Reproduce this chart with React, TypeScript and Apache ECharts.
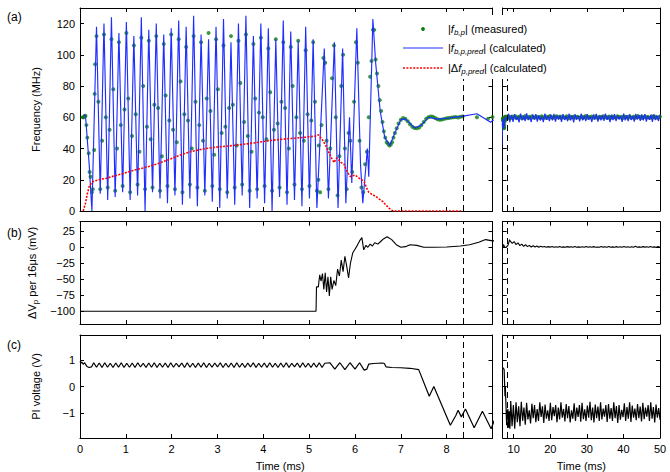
import React, { useEffect, useRef } from 'react';
import * as echarts from 'echarts';

// ---------------- data ----------------
const switchTime = 8.37; // ms, dashed marker

// (a) calculated |f_b,p,pred| : start, oscillation (alternating peak/trough), irregular part, tail
const blueStart = [[0.08, 62], [0.12, 61], [0.2, 30], [0.26, 0]];
const blueOscStart = 0.36;
const blueOscStep = 0.0815;
const blueOscVals = [
  118, 11, 120, 7, 124, 9, 114, 12, 121, 7, 112, 10, 124, 0, 116, 12, 120, 8, 113, 5,
  117, 10, 122, 4, 118, 8, 125, 3, 113, 10, 110, 6, 118, 2, 123, 8, 108, 4, 120, 10,
  125, 2, 112, 8, 120, 5, 117, 0, 110, 9, 122, 4, 115, 7, 109, 3, 118, 8, 110, 2,
];
const blueIrregular = [
  [5.33, 104], [5.42, 8], [5.55, 108], [5.63, 2], [5.73, 104], [5.8, 5], [5.88, 60], [5.93, 18],
  [6.04, 117], [6.12, 30], [6.17, 5], [6.27, 40], [6.3, 22], [6.39, 123], [6.45, 95], [6.55, 64],
  [6.65, 47], [6.76, 42], [6.87, 50], [7.0, 58.5], [7.1, 59], [7.3, 53.2], [7.45, 55], [7.6, 60],
  [7.8, 58.8], [8.0, 59.4], [8.33, 60.6], [8.66, 62.3], [8.96, 56.8],
];
const blueLateStart = 9.0;
const blueLateEnd = 50;
const blueLateVals = [
  58, 61.5, 57, 62, 58.5, 60.5, 56.8, 62.3, 58, 61, 57.5, 62.5, 58.2, 60.8, 57, 61.8, 58.6, 62, 57.3, 61.2,
  58, 60.6, 56.9, 62.4, 58.4, 61, 57.6, 61.7, 58.1, 62.2, 57.2, 60.9, 58.5, 61.5, 57, 62, 58.3, 60.7, 57.5, 62.3,
  58, 61.3, 56.8, 61.9, 58.6, 60.8, 57.4, 62.4, 58.1, 61.1, 57.6, 62, 58.3, 60.6, 57, 61.8, 58.5, 62.2, 57.3, 61,
  58, 61.6, 57.7, 62.3, 58.4, 60.9, 56.9, 61.7, 58.2, 62.1, 57.5, 61.2, 58.6, 60.7, 57.1, 62.4, 58, 61.4, 57.6, 61.9,
  58.3, 60.8, 57.2, 62.2, 58.5, 61.3, 57.8, 61.8, 58.1, 62, 57.3, 60.9, 58.4, 61.6, 57, 62.1, 58.2, 61, 57.6, 61.5,
];

// (a) measured |f_b,p| (green dots)
const greenStart = [
  [0.06, 60], [0.08, 60], [0.1, 60.5], [0.12, 61], [0.14, 55], [0.16, 47], [0.19, 37], [0.21, 25],
  [0.23, 22], [0.26, 12], [0.28, 14], [0.31, 39], [0.32, 75], [0.33, 94],
];
const greenOscStart = 0.36;
const greenOscStep = 0.04075;
const greenOscVals = [
  112, 70, 14, 45, 113, 60, 15, 52, 110, 78, 13, 40, 108, 55, 16, 65, 114, 72, 12, 48,
  106, 62, 17, 38, 111, 80, 14, 54, 109, 46, 15, 68, 112, 66, 13, 35, 107, 74, 16, 58,
  113, 52, 14, 44, 110, 83, 12, 62, 105, 58, 17, 40, 112, 70, 15, 55, 108, 45, 13, 72,
  114, 64, 16, 36, 110, 78, 14, 50, 106, 54, 12, 66, 112, 68, 15, 42, 109, 82, 17, 57,
  113, 48, 13, 38, 107, 72, 14, 63, 111, 60, 16, 46, 104, 76, 13, 52, 110, 56, 15, 70,
  108, 66, 12, 40, 105, 80, 17, 60, 109, 50, 14, 45, 103, 62, 16, 58, 108, 70, 13, 42,
];
const greenIrregular = [
  [5.2, 20], [5.24, 12], [5.27, 55], [5.31, 98], [5.35, 95], [5.38, 45], [5.42, 14], [5.46, 40],
  [5.5, 85], [5.54, 106], [5.58, 60], [5.62, 10], [5.66, 35], [5.7, 80], [5.74, 100], [5.78, 40],
  [5.82, 14], [5.86, 50], [5.9, 45], [5.94, 25], [5.98, 70], [6.02, 108], [6.06, 95], [6.1, 45],
  [6.14, 15], [6.18, 12], [6.22, 30], [6.26, 38], [6.3, 60],
];
const greenTail = [
  [6.33, 86], [6.36, 96], [6.39, 116], [6.42, 116], [6.45, 97], [6.48, 88], [6.51, 80], [6.54, 71],
  [6.57, 64], [6.6, 57], [6.63, 51], [6.66, 47], [6.69, 44], [6.72, 43], [6.75, 42], [6.78, 42.5],
  [6.81, 44], [6.84, 47], [6.87, 50], [6.91, 53], [6.95, 56], [7.0, 58.5], [7.05, 59.5], [7.1, 59],
  [7.15, 57.5], [7.2, 55.5], [7.25, 54], [7.3, 53.2], [7.35, 53], [7.4, 53.5], [7.45, 55], [7.5, 57],
  [7.55, 59], [7.6, 60], [7.65, 60.5], [7.7, 60.3], [7.75, 59.5], [7.8, 58.8], [7.85, 58.5], [7.9, 58.6],
  [7.95, 59], [8.0, 59.4], [8.05, 59.6], [8.1, 59.8], [8.15, 60], [8.2, 60.2], [8.25, 59.9], [8.3, 60.4],
  [8.35, 60.6], [8.66, 60], [8.9, 59],
];
const greenLateStart = 9.0;
const greenLateEnd = 50;
const greenLateVals = [
  60.2, 59.6, 60.5, 59.9, 60.8, 59.4, 60.1, 60.6, 59.7, 60.3, 59.5, 60.9, 60, 59.8, 60.4, 59.3, 60.7, 60.1, 59.6, 60.5,
  59.9, 60.2, 59.4, 60.8, 60, 59.7, 60.6, 59.5, 60.3, 60.9, 59.8, 60.1, 59.6, 60.4, 60.7, 59.9, 60.2, 59.5, 60.6, 60,
  59.7, 60.8, 60.3, 59.4, 60.5, 59.9, 60.1, 60.7, 59.6, 60.4, 60, 59.8, 60.6, 59.5, 60.2, 60.9, 59.7, 60.3, 59.9, 60.5,
  60.1, 59.6, 60.8, 60, 59.4, 60.4, 60.2, 59.8, 60.7, 59.9, 60.3, 59.5, 60.6, 60.1, 59.7, 60.5, 60, 59.6, 60.8, 60.2,
  59.9, 60.4, 59.5, 60.6, 60.1, 59.8, 60.3, 60.7, 59.6, 60, 60.5, 59.7, 60.2, 60.9, 59.9, 60.4, 59.5, 60.1, 60.6, 59.8,
  60.3, 60, 59.6, 60.7, 60.2, 59.9, 60.4, 59.7, 60.1, 60.5,
];

// (a) calculated |Δf_p,pred| (red dotted)
const redPts = [
  [0.07, 0], [0.12, 5], [0.16, 11], [0.2, 15.6], [0.24, 17.5], [0.28, 18.8], [0.4, 20], [0.58, 21],
  [0.75, 22.5], [0.94, 24], [1.1, 25.5], [1.3, 27], [1.5, 28.5], [1.67, 30], [1.85, 32], [2.03, 34],
  [2.2, 36], [2.39, 37.8], [2.57, 39], [2.75, 40], [3.0, 41], [3.2, 41.5], [3.5, 42.5], [3.77, 43.5],
  [4.0, 44.5], [4.28, 45.6], [4.5, 46.2], [4.71, 46.7], [4.95, 47.3], [5.14, 48], [5.2, 48.8], [5.28, 46],
  [5.36, 42], [5.42, 38], [5.47, 35], [5.54, 31], [5.6, 34], [5.65, 32.6], [5.7, 31], [5.76, 30],
  [5.8, 27], [5.83, 25], [5.9, 22], [5.95, 22.5], [6.0, 23], [6.05, 22], [6.09, 21], [6.15, 20],
  [6.2, 18.8], [6.25, 15], [6.3, 12], [6.38, 10.5], [6.45, 9.4], [6.52, 7.8], [6.6, 6.2], [6.67, 4],
  [6.74, 1.9], [6.8, 0.5], [6.85, 0], [8.33, 0],
];

// (b) ΔV_p per 16 µs (mV)
const bEarly = [
  [0, -100], [5.15, -100], [5.16, -62], [5.2, -62], [5.23, -43], [5.26, -53], [5.29, -41], [5.32, -66],
  [5.35, -40], [5.38, -70], [5.41, -46], [5.44, -76], [5.47, -46], [5.5, -66], [5.54, -52], [5.58, -60],
  [5.62, -34], [5.66, -45], [5.7, -20], [5.74, -38], [5.78, -14], [5.82, -30], [5.86, -48], [5.9, -25],
  [5.95, -9], [6.0, -3], [6.05, 3], [6.1, 10], [6.15, 15], [6.19, -4], [6.24, 3], [6.28, 0],
  [6.33, 5], [6.38, 2], [6.43, 7], [6.5, 5], [6.56, 9], [6.62, 13], [6.7, 16.5], [6.8, 12],
  [6.9, 4], [7.0, 0], [7.1, 1], [7.2, 4], [7.35, 3], [7.5, 0], [7.7, 0], [8.0, 0.5],
  [8.3, 2], [8.5, 4], [8.7, 8], [8.85, 12], [9.0, 10],
];
const bLateStart = 9.1;
const bLateEnd = 50;
const bLateVals = [
  10, 6, 9, 4, 7, 2.5, 5, 1.5, 4, 1, 3, 0.5, 2.5, 0.5, 2, 0, 1.5, 0.3, 1.2, 0,
  1, 0.2, 1.2, 0, 0.8, 0, 1.4, 0, 0.6, 0, 1, 0.2, 0.8, 0, 1.2, 0, 0.6, 0, 0.9, 0.1,
  1.3, 0, 0.7, 0, 1, 0, 0.5, 0, 1.2, 0.2, 0.8, 0, 1.4, 0, 0.6, 0, 1, 0, 0.8, 0.1,
  1.2, 0, 0.7, 0, 0.9, 0, 1.5, 0, 0.6, 0, 1, 0.2, 0.8, 0, 1.2, 0, 0.6, 0, 1, 0,
];

// (c) PI voltage (V)
const cStart = [[0, 0.95], [0.02, 0.88], [0.04, 0.93], [0.07, 0.84], [0.1, 0.9], [0.15, 0.76], [0.2, 0.72], [0.25, 0.74]];
const cOscStart = 0.3;
const cOscStep = 0.06;
const cOscVals = [
  0.9, 0.73, 0.89, 0.72, 0.9, 0.73, 0.88, 0.72, 0.89, 0.73, 0.9, 0.72, 0.88, 0.73, 0.89, 0.72, 0.9, 0.74, 0.88, 0.72,
  0.89, 0.73, 0.9, 0.72, 0.88, 0.73, 0.89, 0.72, 0.9, 0.73, 0.88, 0.74, 0.89, 0.72, 0.9, 0.73, 0.88, 0.72, 0.89, 0.73,
  0.9, 0.72, 0.88, 0.73, 0.89, 0.74, 0.9, 0.72, 0.88, 0.73, 0.89, 0.72, 0.9, 0.73, 0.88, 0.72, 0.89, 0.74, 0.9, 0.72,
  0.88, 0.73, 0.89, 0.72, 0.9, 0.73, 0.88, 0.72, 0.89, 0.73, 0.9, 0.72, 0.88, 0.74, 0.89, 0.72, 0.9, 0.73, 0.88, 0.72,
  0.89, 0.73, 0.9, 0.72, 0.88,
];
const cTail = [
  [5.45, 0.9], [5.56, 0.66], [5.67, 0.9], [5.78, 0.64], [5.89, 0.9], [6.0, 0.66], [6.1, 0.9], [6.2, 0.62],
  [6.26, 0.66], [6.3, 0.85], [6.4, 0.87], [6.5, 0.88], [6.6, 0.89], [6.64, 0.87], [6.68, 0.74], [6.8, 0.72],
  [7.0, 0.71], [7.2, 0.69], [7.39, 0.64], [7.62, -0.37], [7.72, 0.0], [8.08, -1.47], [8.2, -1.1], [8.25, -0.9],
  [8.32, -1.15], [8.41, -0.85], [8.6, -1.56], [8.78, -0.94], [8.97, -1.6],
];
const cLateStart = 9.2;
const cLateEnd = 50;
const cLateVals = [
  -0.55, -1.5, -0.7, -1.6, -0.6, -1.35, -0.75, -1.5, -0.58, -1.3, -0.8, -1.45, -0.62, -1.25, -0.9, -1.4, -0.65, -1.2, -0.7, -1.35,
  -0.85, -1.3, -0.6, -1.15, -0.75, -1.38, -0.68, -1.22, -0.9, -1.3, -0.62, -1.28, -0.78, -1.12, -0.7, -1.35, -0.8, -1.25, -0.6, -1.18,
  -0.85, -1.32, -0.66, -1.2, -0.74, -1.36, -0.9, -1.22, -0.64, -1.3, -0.8, -1.15, -0.7, -1.33, -0.62, -1.24, -0.86, -1.3, -0.72, -1.18,
  -0.58, -1.28, -0.8, -1.36, -0.68, -1.2, -0.76, -1.3, -0.6, -1.25, -0.84, -1.14, -0.7, -1.34, -0.66, -1.22, -0.82, -1.3, -0.6, -1.2,
  -0.74, -1.38, -0.7, -1.26, -0.88, -1.16, -0.64, -1.3, -0.78, -1.22, -0.6, -1.34, -0.72, -1.18, -0.84, -1.28, -0.66, -1.2, -0.76, -1.32,
  -0.62, -1.24, -0.8, -1.14, -0.7, -1.3, -0.6, -1.22, -0.78, -1.36, -0.68, -1.18, -0.82, -1.26,
];

// axis ticks
const xTicksLeft = [0, 1, 2, 3, 4, 5, 6, 7, 8, 9];
const xLabelsLeft = [0, 1, 2, 3, 4, 5, 6, 7, 8];
const xTicksRight = [10, 20, 30, 40, 50];
const yTicksA = [0, 20, 40, 60, 80, 100, 120];
const yTicksB = [-100, -75, -50, -25, 0, 25];
const yTicksC = [-1, 0, 1];

// ---------------- helpers ----------------
const stepped = (start: number, step: number, vals: number[]) =>
  vals.map((v, i) => [+(start + i * step).toFixed(4), v]);
const spanned = (start: number, end: number, vals: number[]) =>
  stepped(start, (end - start) / (vals.length - 1), vals);

const blueAll = [...blueStart, ...stepped(blueOscStart, blueOscStep, blueOscVals), ...blueIrregular, ...spanned(blueLateStart, blueLateEnd, blueLateVals)];
const greenAll = [...greenStart, ...stepped(greenOscStart, greenOscStep, greenOscVals), ...greenIrregular, ...greenTail, ...spanned(greenLateStart, greenLateEnd, greenLateVals)];
const bAll = [...bEarly, ...spanned(bLateStart, bLateEnd, bLateVals)];
const cAll = [...cStart, ...stepped(cOscStart, cOscStep, cOscVals), ...cTail, ...spanned(cLateStart, cLateEnd, cLateVals)];

const F = "'Liberation Sans', Arial, Helvetica, sans-serif";
const font = { fontFamily: F, fontSize: 11, color: '#000' };
const GREEN = '#0b800f';
const BLUE = '#1f2eff';
const RED = '#ff0000';
const minus = (v: number) => String(v).replace('-', '\u2212');

const L = { left: 80, width: 412.5 };
const R = { left: 502.7, width: 157.3 };
const rows = [
  { top: 8, height: 203 },
  { top: 221.7, height: 102.3 },
  { top: 335, height: 103.3 },
];
const yRanges = [
  { min: 0, max: 130, ticks: yTicksA, name: 'Frequency (MHz)', gap: 37 },
  { min: -120, max: 40, ticks: yTicksB, name: '\u0394V{s|p} per 16\u03bcs (mV)', gap: 40 },
  { min: -1.95, max: 1.95, ticks: yTicksC, name: 'PI voltage (V)', gap: 37 },
];

function buildOption() {
  const grid: any[] = [];
  const xAxis: any[] = [];
  const yAxis: any[] = [];
  rows.forEach((r, ri) => {
    [true, false].forEach((isLeft) => {
      const g = grid.length;
      grid.push({ ...(isLeft ? L : R), ...r });
      const xr = isLeft ? { min: 0, max: 9 } : { min: 7, max: 50 };
      const xt = isLeft ? xTicksLeft : xTicksRight;
      const xl = isLeft ? xLabelsLeft : xTicksRight;
      const bottomRow = ri === 2;
      const axLine = { show: true, onZero: false, lineStyle: { color: '#000', width: 1 } };
      const xCommon = {
        type: 'value', gridIndex: g, ...xr, splitLine: { show: false }, axisLine: axLine,
        axisTick: { show: true, inside: true, length: 4, customValues: xt, lineStyle: { color: '#000' } },
      };
      xAxis.push({
        ...xCommon, position: 'bottom',
        axisLabel: { show: bottomRow, customValues: xl, margin: 5, ...font },
        name: bottomRow ? 'Time (ms)' : '', nameLocation: 'middle', nameGap: 22,
        nameTextStyle: { ...font, padding: isLeft ? [0, 12, 0, 0] : [0, 0, 0, 0] },
      });
      xAxis.push({ ...xCommon, position: 'top', axisLabel: { show: false } });
      const y = yRanges[ri];
      const yCommon = {
        type: 'value', gridIndex: g, min: y.min, max: y.max, splitLine: { show: false }, axisLine: axLine,
        axisTick: { show: true, inside: true, length: 4, customValues: y.ticks, lineStyle: { color: '#000' } },
      };
      yAxis.push({
        ...yCommon, position: 'left',
        axisLabel: { show: isLeft, customValues: y.ticks, margin: 5, formatter: minus, ...font },
        name: isLeft ? y.name : '', nameLocation: 'middle', nameRotate: 90, nameGap: y.gap,
        nameTextStyle: {
          ...font, lineHeight: 14,
          rich: { s: { fontFamily: F, fontSize: 8, color: '#000', verticalAlign: 'bottom', lineHeight: 6 } },
        },
      });
      yAxis.push({ ...yCommon, position: 'right', axisLabel: { show: false } });
    });
  });

  const mark = {
    silent: true, symbol: ['none', 'none'], label: { show: false }, animation: false,
    lineStyle: { color: '#000', width: 1, type: [6, 4] },
    data: [{ xAxis: switchTime }],
  };
  const series: any[] = [];
  [0, 1].forEach((g) => {
    series.push({
      name: 'fbp_pred', type: 'line', xAxisIndex: g * 2, yAxisIndex: g * 2, data: blueAll,
      showSymbol: false, symbol: 'none', clip: true, lineStyle: { color: BLUE, width: 1.15 }, markLine: mark,
    });
    if (g === 0) {
      series.push({
        name: 'dfp_pred', type: 'line', xAxisIndex: 0, yAxisIndex: 0, data: redPts,
        showSymbol: false, symbol: 'none', clip: true, lineStyle: { color: RED, width: 1.6, type: [2, 1.4] },
      });
    }
    series.push({
      name: 'fbp', type: 'scatter', xAxisIndex: g * 2, yAxisIndex: g * 2, data: greenAll,
      symbol: 'circle', symbolSize: g === 0 ? 4 : 3.8, clip: true, itemStyle: { color: GREEN },
    });
  });
  [2, 3].forEach((g) => {
    series.push({
      name: 'dVp', type: 'line', xAxisIndex: g * 2, yAxisIndex: g * 2, data: bAll,
      showSymbol: false, symbol: 'none', clip: true, lineStyle: { color: '#000', width: 1.1 }, markLine: mark,
    });
  });
  [4, 5].forEach((g) => {
    series.push({
      name: 'PI', type: 'line', xAxisIndex: g * 2, yAxisIndex: g * 2, data: cAll,
      showSymbol: false, symbol: 'none', clip: true, lineStyle: { color: '#000', width: 1.2 }, markLine: mark,
    });
  });

  const rich = {
    i: { fontFamily: F, fontSize: 11, fontStyle: 'italic', fill: '#000', lineHeight: 14 },
    s: { fontFamily: F, fontSize: 8, fontStyle: 'italic', fill: '#000', verticalAlign: 'bottom', lineHeight: 6 },
  };
  const legendText = (y: number, text: string) => ({
    type: 'text', x: 448, y, z: 101,
    style: { text, rich, fontFamily: F, fontSize: 11, fill: '#000', lineHeight: 14, verticalAlign: 'middle', align: 'left' },
  });
  const panelLabel = (y: number, text: string) => ({
    type: 'text', x: 7, y, z: 101,
    style: { text, fontFamily: F, fontSize: 12, fill: '#000', verticalAlign: 'middle' },
  });

  const graphic = [
    { type: 'rect', z: 100, shape: { x: 398, y: 15, width: 160, height: 64 }, style: { fill: '#fff' } },
    { type: 'circle', z: 101, shape: { cx: 423, cy: 29, r: 1.9 }, style: { fill: GREEN } },
    { type: 'line', z: 101, shape: { x1: 403, y1: 48, x2: 443, y2: 48 }, style: { stroke: BLUE, lineWidth: 1 } },
    { type: 'line', z: 101, shape: { x1: 403, y1: 68, x2: 443, y2: 68 }, style: { stroke: RED, lineWidth: 1.6, lineDash: [2, 1.4] } },
    legendText(29, '|{i|f}{s|b,p}| (measured)'),
    legendText(48, '|{i|f}{s|b,p,pred}| (calculated)'),
    legendText(68, '|\u0394{i|f}{s|p,pred}| (calculated)'),
    panelLabel(17, '(a)'),
    panelLabel(233, '(b)'),
    panelLabel(345, '(c)'),
  ];

  return { animation: false, backgroundColor: '#fff', textStyle: { fontFamily: F }, grid, xAxis, yAxis, series, graphic };
}

export default function App() {
  const ref = useRef<HTMLDivElement>(null);
  useEffect(() => {
    if (!ref.current) return;
    const chart = echarts.init(ref.current, undefined, { renderer: 'svg' });
    chart.setOption(buildOption() as any);
    return () => chart.dispose();
  }, []);
  return <div ref={ref} style={{ position: 'fixed', left: 0, top: 0, width: 670, height: 472, background: '#fff' }} />;
}
